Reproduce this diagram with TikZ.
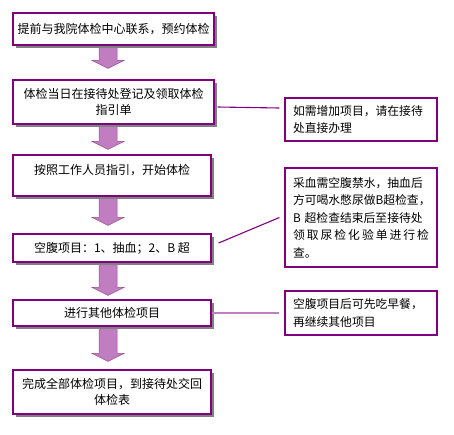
\documentclass[tikz,border=0pt]{standalone}
\usepackage{fontspec}
\newfontfamily\cjk{Noto Sans CJK SC}
\usetikzlibrary{calc,shadows,backgrounds}
\definecolor{boxline}{HTML}{800080}
\definecolor{arrowfill}{HTML}{C07EC0}
\definecolor{arrowline}{HTML}{9C4A9C}
\definecolor{shadowgray}{HTML}{808080}
\definecolor{linkthick}{HTML}{C080C0}
\newcommand\blockarrow[3]{%
  \filldraw[fill=arrowfill, draw=arrowline, line width=0.5pt]
    let \p1=(#1.south), \p2=(#2.north) in
    (99pt,\y1) -- (117pt,\y1) -- (117pt,\y2+#3+8pt) -- (124pt,\y2+#3+8pt)
    -- (108pt,\y2+#3) -- (92pt,\y2+#3+8pt) -- (99pt,\y2+#3+8pt) -- cycle;}
\begin{document}
\begin{tikzpicture}[x=1pt,y=-1pt,
  stepbox/.style={draw=boxline, line width=1.2pt, fill=white, rectangle, inner sep=0pt,
    align=center, font=\cjk\fontsize{12}{16.5}\selectfont,
    drop shadow={shadow xshift=3pt, shadow yshift=-3pt, fill=shadowgray, opacity=1}},
  notebox/.style={draw=boxline, line width=1.2pt, fill=white, inner xsep=8pt, inner ysep=0pt,
    text width=136pt, align=left, font=\cjk\fontsize{11.8}{17.5}\selectfont},
  link/.style={draw=boxline, line width=1.1pt},
  thicklink/.style={draw=linkthick, line width=2.6pt},
]
\useasboundingbox (0,0) rectangle (454,434);

\node[stepbox, minimum width=201pt, minimum height=32pt] (b1) at (113.5,29) {提前与我院体检中心联系，预约体检};
\node[stepbox, minimum width=201pt, minimum height=44pt] (b2) at (113.5,102) {体检当日在接待处登记及领取体检\\指引单};
\node[stepbox, minimum width=198pt, minimum height=41pt, text height=10pt, text depth=13pt] (b3) at (112,175.5) {按照工作人员指引，开始体检};
\node[stepbox, minimum width=198pt, minimum height=28pt] (b4) at (112,248) {空腹项目：1、抽血；2、B 超};
\node[stepbox, minimum width=198pt, minimum height=26pt] (b5) at (112,313) {进行其他体检项目};
\node[stepbox, minimum width=198pt, minimum height=44pt] (b6) at (112,392) {完成全部体检项目，到接待处交回\\体检表};

\node[notebox, minimum height=43pt] (r1) at (361,119.5) {如需增加项目，请在接待\\处直接办理};
\node[notebox, minimum height=99pt] (r2) at (361,217.5) {采血需空腹禁水，抽血后\\方可喝水憋尿做B超检查，\\B 超检查结束后至接待处\\\makebox[136pt][s]{领\hfill 取\hfill 尿\hfill 检\hfill 化\hfill 验\hfill 单\hfill 进\hfill 行\hfill 检}\\查。};
\node[notebox, minimum height=44pt] (r3) at (361,313) {空腹项目后可先吃早餐，\\再继续其他项目};

\begin{scope}[on background layer]
  \blockarrow{b1}{b2}{11pt}
  \blockarrow{b2}{b3}{5pt}
  \blockarrow{b3}{b4}{8pt}
  \blockarrow{b4}{b5}{4pt}
  \blockarrow{b5}{b6}{8pt}
\end{scope}

\path[link] ([xshift=3pt,yshift=-5pt]b2.east) -- ([xshift=-5pt,yshift=11.5pt]r1.west);
\path[link] ([xshift=7pt,yshift=5pt]b4.east) -- ([xshift=-5pt]r2.west);
\path[thicklink] ([xshift=0.6pt]b5.east) -- ([xshift=-5pt]r3.west);
\end{tikzpicture}
\end{document}
